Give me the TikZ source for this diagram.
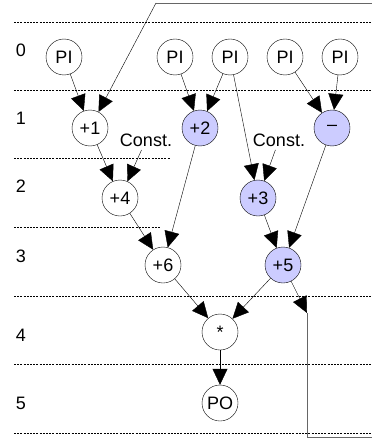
\documentclass[tikz,border=0pt]{standalone}
\usepackage{fontspec}
\setmainfont{Liberation Sans}
\usetikzlibrary{arrows.meta}
\definecolor{opfill}{RGB}{204,204,255}
\tikzset{
  op/.style={draw, circle, inner sep=0pt, minimum size=36pt, font=\fontsize{18}{18}\selectfont},
  hot/.style={op, fill=opfill},
  arr/.style={-{Triangle[length=16pt,width=15pt]}},
  lvl/.style={dash pattern=on 2pt off 1.2pt, line width=0.9pt},
  fb/.style={draw=black!60, line width=0.8pt},
  txt/.style={font=\fontsize{18}{18}\selectfont},
}
\begin{document}
\begin{tikzpicture}[x=1pt,y=-1pt]
\useasboundingbox (0,0) rectangle (372,441);
% control step boundaries
\draw [lvl] (14,22) -- (372,22);
\draw [lvl] (14,90) -- (372,90);
\draw [lvl] (14,158) -- (170,158);
\draw [lvl] (14,227) -- (160,227);
\draw [lvl] (14,296) -- (372,296);
\draw [lvl] (14,364) -- (372,364);
\draw [lvl] (14,433) -- (372,433);
% step numbers
\node [txt] (s0) at (21,50) {0};
\node [txt] (s1) at (21,118) {1};
\node [txt] (s2) at (21,186) {2};
\node [txt] (s3) at (21,256) {3};
\node [txt] (s4) at (21,335) {4};
\node [txt] (s5) at (21,403) {5};
% operations
\node [op] (pi1) at (64,57) {PI};
\node [op] (pi2) at (175,57) {PI};
\node [op] (pi3) at (230,57) {PI};
\node [op] (pi4) at (285,57) {PI};
\node [op] (pi5) at (340,57) {PI};
\node [op] (add1) at (90,128) {+1};
\node [hot] (add2) at (200,128) {+2};
\node [hot] (sub) at (332,128) {--};
\node [txt] (c1) at (146,140) {Const.};
\node [txt] (c2) at (279,140) {Const.};
\node [op] (add4) at (120,198) {+4};
\node [hot] (add3) at (258,198) {+3};
\node [op] (add6) at (163,265) {+6};
\node [hot] (add5) at (283,265) {+5};
\node [op] (mul) at (220,332) {*};
\node [op] (po) at (220,403) {PO};
% loop back
\coordinate (fbin) at (156,3);
\coordinate (fbout) at (307,313);
\draw [fb] (fbin) -- (372,3);
\draw [fb] (fbout) -- (307,437) -- (372,437);
% data edges
\draw [arr] (pi1) -- (add1);
\draw [arr] (fbin) -- (add1);
\draw [arr] (pi2) -- (add2);
\draw [arr] (pi3) -- (add2);
\draw [arr] (pi3) -- (add3);
\draw [arr] (pi4) -- (sub);
\draw [arr] (pi5) -- (sub);
\draw [arr] (add1) -- (add4);
\draw [arr] (c1) -- (add4);
\draw [arr] (c2) -- (add3);
\draw [arr] (add2) -- (add6);
\draw [arr] (add4) -- (add6);
\draw [arr] (add3) -- (add5);
\draw [arr] (sub) -- (add5);
\draw [arr] (add6) -- (mul);
\draw [arr] (add5) -- (mul);
\draw [arr] (add5) -- (fbout);
\draw [arr] (mul) -- (po);
\end{tikzpicture}
\end{document}
